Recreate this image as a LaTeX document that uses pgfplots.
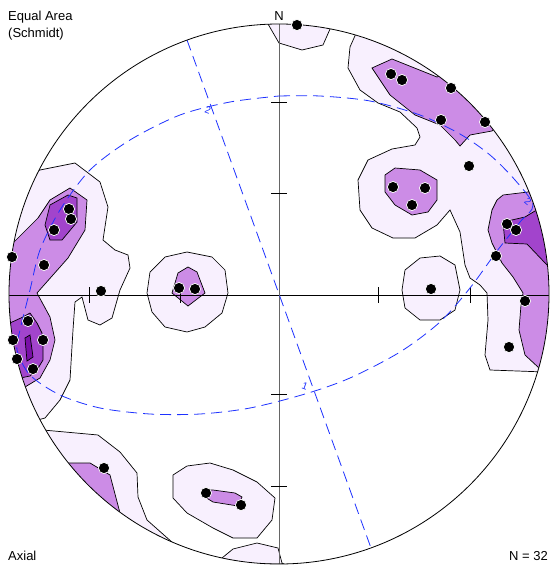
\documentclass[border=0pt]{standalone}
\usepackage{fontspec}
\setmainfont{Liberation Sans}
\usepackage{pgfplots}
\pgfplotsset{compat=1.18}
\definecolor{cL}{HTML}{F8F0FE}
\definecolor{cM}{HTML}{CC8CE6}
\definecolor{cD}{HTML}{A244CC}
\definecolor{cX}{HTML}{7A10A8}
\definecolor{gc}{HTML}{1E32FF}
\begin{document}
\begin{tikzpicture}
\begin{axis}[hide axis, scale only axis, width=552pt, height=565pt,
  xmin=0, xmax=552, ymin=0, ymax=565, y dir=reverse,
  every axis plot/.append style={line width=0.7pt},
  cont/.style={draw=black, line width=0.7pt}]
% ---- contour level 1
\addplot[cont, fill=cL] coordinates {(262,2)(268,24)(279,43)(302,50)(323,45)(334,20)(334,2)} -- cycle;
\addplot[cont, fill=cL] coordinates {(370,2)(350,47)(348,68)(360,90)(378,103)(400,112)(417,128)(420,137)(415,145)(392,149)(368,160)(358,180)(360,210)(372,228)(393,238)(415,238)(437,225)(450,210)(460,232)(465,265)(470,278)(480,285)(487,293)(488,320)(485,355)(490,370)(545,372)(551,372)(551,2)} -- cycle;
\addplot[cont, fill=cL] coordinates {(402,290)(405,270)(420,258)(440,256)(455,265)(460,290)(455,310)(440,320)(420,320)(405,308)} -- cycle;
\addplot[cont, fill=cL] coordinates {(147,293)(150,272)(165,257)(187,252)(212,257)(225,270)(228,293)(222,313)(205,327)(187,332)(165,327)(152,312)} -- cycle;
\addplot[cont, fill=cL] coordinates {(1,185)(40,170)(75,163)(100,182)(108,207)(103,240)(115,250)(128,255)(130,268)(120,290)(112,318)(100,325)(88,320)(82,297)(75,302)(73,330)(70,380)(60,400)(45,418)(1,430)} -- cycle;
\addplot[cont, fill=cL] coordinates {(1,425)(43,430)(98,435)(120,452)(137,473)(138,497)(147,520)(173,543)(190,560)(190,564)(1,564)} -- cycle;
\addplot[cont, fill=cL] coordinates {(173,475)(187,466)(210,463)(233,470)(257,482)(275,498)(272,520)(257,538)(233,538)(213,528)(187,513)(173,498)} -- cycle;
\addplot[cont, fill=cL] coordinates {(215,564)(222,558)(233,549)(257,543)(278,548)(282,563)(284,564)} -- cycle;
% ---- contour level 2
\addplot[cont, fill=cM] coordinates {(372,68)(392,59)(437,77)(455,70)(510,110)(492,131)(470,135)(460,146)(455,140)(440,125)(415,115)(390,95)} -- cycle;
\addplot[cont, fill=cM] coordinates {(540,180)(528,192)(503,195)(497,200)(492,210)(488,230)(492,243)(502,263)(513,277)(523,293)(521,305)(519,330)(525,355)(539,368)(551,375)(551,180)} -- cycle;
\addplot[cont, fill=cM] coordinates {(385,175)(395,168)(420,170)(437,180)(437,200)(428,212)(412,215)(395,205)(385,192)} -- cycle;
\addplot[cont, fill=cM] coordinates {(178,273)(188,267)(197,272)(205,293)(188,306)(172,293)} -- cycle;
\addplot[cont, fill=cM] coordinates {(1,255)(38,218)(50,200)(70,188)(87,200)(85,230)(68,258)(37,293)(50,317)(55,340)(50,360)(40,378)(20,390)(1,390)} -- cycle;
\addplot[cont, fill=cM] coordinates {(20,463)(90,463)(110,475)(120,513)(125,540)(20,540)} -- cycle;
\addplot[cont, fill=cM] coordinates {(205,490)(213,490)(235,493)(242,497)(238,506)(213,502)(205,497)} -- cycle;
% ---- contour level 3
\addplot[cont, fill=cD] coordinates {(545,205)(525,217)(503,222)(505,243)(527,244)(547,265)(551,270)(551,205)} -- cycle;
\addplot[cont, fill=cD] coordinates {(50,205)(68,195)(77,198)(77,222)(62,240)(50,240)(45,225)} -- cycle;
\addplot[cont, fill=cD] coordinates {(1,325)(10,323)(23,317)(30,313)(37,323)(42,333)(43,347)(43,360)(37,370)(30,376)(1,382)} -- cycle;
% ---- contour level 4
\addplot[cont, fill=cX] coordinates {(25,338)(30,335)(33,357)(27,361)} -- cycle;
% ---- reference cross and ticks
\addplot[black, line width=0.7pt] coordinates {(1,295)(551,295)};
\addplot[black!60, line width=0.7pt] coordinates {(279,1)(279,564)};
\addplot[black, line width=0.7pt] coordinates {(271,102)(287,102)};
\addplot[black, line width=0.7pt] coordinates {(271,193)(287,193)};
\addplot[black, line width=0.7pt] coordinates {(271,394)(287,394)};
\addplot[black, line width=0.7pt] coordinates {(271,486)(287,486)};
\addplot[black, line width=0.7pt] coordinates {(89,287)(89,303)};
\addplot[black, line width=0.7pt] coordinates {(180,287)(180,303)};
\addplot[black, line width=0.7pt] coordinates {(378,287)(378,303)};
\addplot[black, line width=0.7pt] coordinates {(470,287)(470,303)};
% ---- great circle and small circle
\addplot[gc, line width=0.8pt, dash pattern=on 11pt off 6pt] coordinates {(187,40)(371,548)};
\addplot[gc, line width=0.8pt, dash pattern=on 11pt off 6pt, smooth] coordinates {
 (279,96)(320,96)(370,101)(420,115)(460,134)(490,155)(515,180)(533,205)(520,222)(497,251)(470,288)
 (440,322)(400,352)(350,378)(305,394)(250,408)(200,414)(150,414)(100,408)(60,395)(30,375)(17,350)
 (20,330)(30,290)(40,250)(60,210)(90,170)(130,140)(180,115)(230,102)(279,96)};
% ---- mask outside the primitive
\fill[white, even odd rule] (axis cs:0,0) rectangle (axis cs:552,565) (axis cs:279,294) circle [radius=270pt];
\draw[black, line width=0.8pt] (axis cs:279,294) circle [radius=270pt];
% ---- poles
\addplot[only marks, mark=*, mark size=5.6pt, mark options={fill=black, draw=white, line width=0.7pt}] coordinates {
 (297,25)(391,74)(402,80)(451,88)(441,120)(485,122)(469,166)(393,187)(425,188)(412,205)
 (507,224)(516,230)(496,256)(525,301)(509,347)(431,289)(179,288)(195,289)(101,291)
 (69,209)(71,219)(54,230)(44,265)(12,257)(28,321)(13,340)(43,340)(17,359)(33,369)
 (104,468)(206,493)(241,505)};
% ---- labels
\node[font=\fontsize{10}{11}\selectfont, text=gc, rotate=-20] at (axis cs:208,110) {2};
\node[font=\fontsize{10}{11}\selectfont, text=gc, rotate=-40] at (axis cs:528,202) {2};
\node[font=\fontsize{10}{11}\selectfont, text=gc, rotate=-20] at (axis cs:305,386) {1};
\node[font=\fontsize{13}{15}\selectfont, anchor=base] at (axis cs:279,20) {N};
\node[font=\fontsize{13}{15}\selectfont, anchor=base west, inner sep=0pt] at (axis cs:8,20) {Equal Area};
\node[font=\fontsize{13}{15}\selectfont, anchor=base west, inner sep=0pt] at (axis cs:8,37) {(Schmidt)};
\node[font=\fontsize{13}{15}\selectfont, anchor=base west, inner sep=0pt] at (axis cs:8,560) {Axial};
\node[font=\fontsize{13}{15}\selectfont, anchor=base east, inner sep=0pt] at (axis cs:548,560) {N = 32};
\end{axis}
\end{tikzpicture}
\end{document}
